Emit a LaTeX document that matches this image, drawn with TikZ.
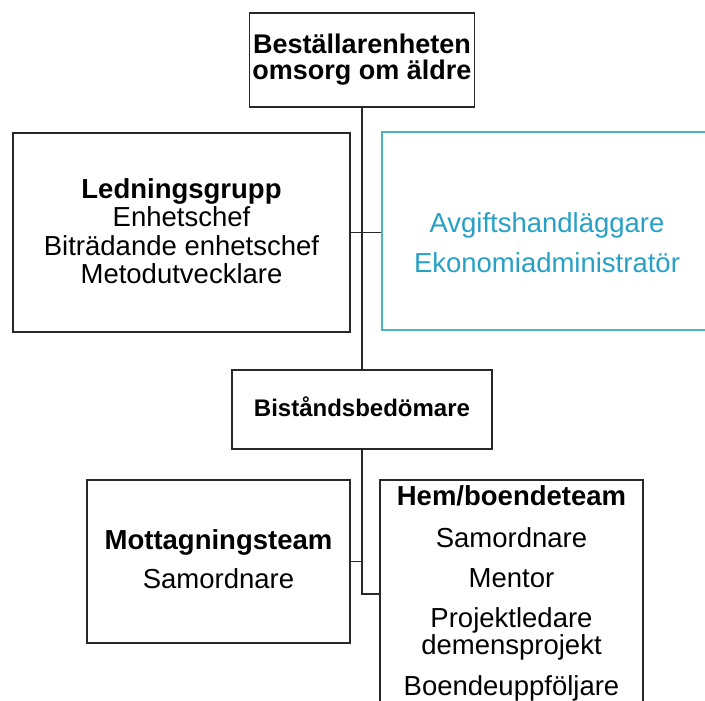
\documentclass[tikz,border=0pt]{standalone}
\usepackage{fontspec}
\setmainfont{Liberation Sans}
\usepackage{tikz}

\definecolor{linegray}{RGB}{40,40,40}
\definecolor{avgframe}{RGB}{75,180,195}
\definecolor{avgtext}{RGB}{40,160,198}

\tikzset{
  orgbox/.style={draw=linegray,line width=1.8pt,inner sep=0pt},
  orgline/.style={draw=linegray,line width=1.8pt},
  orgtxt/.style={inner sep=0pt,anchor=base,font=\fontsize{27.5}{27.5}\selectfont},
}

\begin{document}
\begin{tikzpicture}[x=1pt,y=-1pt]
  \useasboundingbox (0,0) rectangle (705,701);
  % boxes
  \node[orgbox,minimum width=225pt,minimum height=94pt] (bestall) at (362,60) {};
  \node[orgbox,minimum width=337pt,minimum height=199pt] (ledning) at (181.5,232.5) {};
  \node[orgbox,draw=avgframe,minimum width=330pt,minimum height=198pt] (avgift) at (547,231) {};
  \node[orgbox,minimum width=260pt,minimum height=79pt] (bistand) at (362,409.5) {};
  \node[orgbox,minimum width=263pt,minimum height=163pt] (mottag) at (218.5,561.5) {};
  \node[orgbox,minimum width=263pt,minimum height=228pt] (hemteam) at (511.5,594) {};

  % connectors
  \draw[orgline] (bestall.south) -- (bistand.north);
  \draw[orgline] (ledning.east) -- (ledning.east -| avgift.west);
  \draw[orgline] (bistand.south) |- (hemteam.west);
  \draw[orgline] (mottag.east) -- (mottag.east -| bistand.south);

  % texts
  \node[orgtxt,font=\fontsize{27}{27}\bfseries] (bestall1) at (362,54) {Beställarenheten};
  \node[orgtxt,font=\fontsize{27}{27}\bfseries] (bestall2) at (362,80) {omsorg om äldre};

  \node[orgtxt,font=\fontsize{27.5}{27.5}\bfseries] (ledning1) at (181.5,198) {Ledningsgrupp};
  \node[orgtxt] (ledning2) at (181.5,226) {Enhetschef};
  \node[orgtxt] (ledning3) at (181.5,255) {Biträdande enhetschef};
  \node[orgtxt] (ledning4) at (181.5,283) {Metodutvecklare};

  \node[orgtxt,text=avgtext] (avgift1) at (547,232) {Avgiftshandläggare};
  \node[orgtxt,text=avgtext] (avgift2) at (547,272) {Ekonomiadministratör};

  \node[orgtxt,font=\fontsize{24}{24}\bfseries] (bistand1) at (362,416) {Biståndsbedömare};

  \node[orgtxt,font=\fontsize{27.5}{27.5}\bfseries] (mottag1) at (218.5,549) {Mottagningsteam};
  \node[orgtxt] (mottag2) at (218.5,588) {Samordnare};

  \node[orgtxt,font=\fontsize{27.5}{27.5}\bfseries] (hemteam1) at (511.5,505) {Hem/boendeteam};
  \node[orgtxt] (hemteam2) at (511.5,547) {Samordnare};
  \node[orgtxt] (hemteam3) at (511.5,587) {Mentor};
  \node[orgtxt] (hemteam4) at (511.5,627) {Projektledare};
  \node[orgtxt] (hemteam5) at (511.5,654) {demensprojekt};
  \node[orgtxt] (hemteam6) at (511.5,695) {Boendeuppföljare};
\end{tikzpicture}
\end{document}
